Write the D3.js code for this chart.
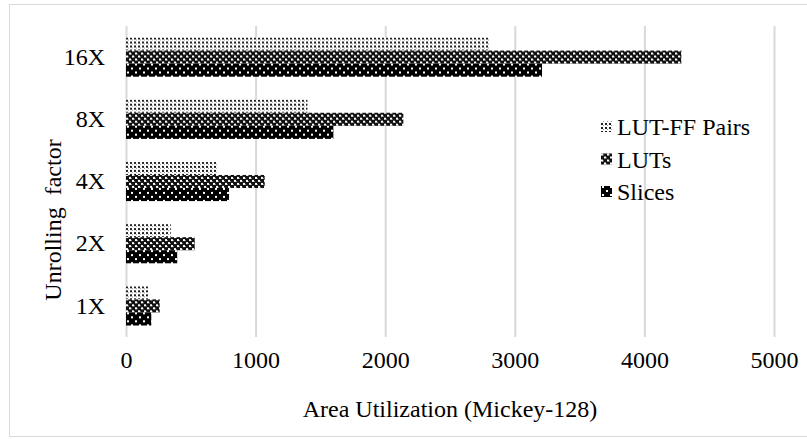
<!DOCTYPE html>
<html>
<head>
<meta charset="utf-8">
<script src="https://cdn.jsdelivr.net/npm/d3@7"></script>
<style>
  body { margin: 0; background: #fff; }
  svg text { font-family: "Liberation Serif", "Times New Roman", Times, serif !important; fill: #000; }
</style>
</head>
<body>
<div id="chart"></div>
<script>
      // data
      var categories = ["16X", "8X", "4X", "2X", "1X"];
      var seriesNames = ["LUT-FF Pairs", "LUTs", "Slices"];
      var lutffPairs = [2805, 1400, 700, 345, 170];
      var luts = [4285, 2140, 1070, 530, 260];
      var slices = [3210, 1600, 795, 395, 195];
      var xTicks = [0, 1000, 2000, 3000, 4000, 5000];

      var seriesValues = [lutffPairs, luts, slices];
      var patternIds = ["pat-pairs", "pat-luts", "pat-slices"];

      var W = 807, H = 439;
      var margin = {top: 26, right: 33, bottom: 102, left: 126};
      var width = W - margin.left - margin.right,
          height = H - margin.top - margin.bottom;
      var fontSize = "24px";

      var svg = d3.select("#chart").append("svg")
          .attr("width", W)
          .attr("height", H);

      // outer frame
      svg.append("rect")
          .attr("x", 9.5).attr("y", 4.5)
          .attr("width", 810).attr("height", 432)
          .attr("fill", "none")
          .attr("stroke", "#d9d9d9")
          .attr("stroke-width", 1);

      ////// patterns //////
      var defs = svg.append("defs");

      var p1 = defs.append("pattern").attr("id", "pat-pairs")
          .attr("patternUnits", "userSpaceOnUse").attr("width", 4).attr("height", 4);
      p1.append("rect").attr("width", 4).attr("height", 4).attr("fill", "#fff");
      p1.append("rect").attr("x", 0).attr("y", 0).attr("width", 2).attr("height", 2).attr("fill", "#222");
      p1.append("rect").attr("x", 2).attr("y", 2).attr("width", 1).attr("height", 1).attr("fill", "#999");

      var p2 = defs.append("pattern").attr("id", "pat-luts")
          .attr("patternUnits", "userSpaceOnUse").attr("width", 6).attr("height", 6);
      p2.append("rect").attr("width", 6).attr("height", 6).attr("fill", "#111");
      p2.append("rect").attr("x", 0).attr("y", 0).attr("width", 2).attr("height", 2).attr("fill", "#fff");
      p2.append("rect").attr("x", 3).attr("y", 3).attr("width", 2).attr("height", 2).attr("fill", "#fff");
      p2.append("rect").attr("x", 2).attr("y", 1).attr("width", 1).attr("height", 1).attr("fill", "#888");
      p2.append("rect").attr("x", 5).attr("y", 4).attr("width", 1).attr("height", 1).attr("fill", "#888");

      var p3 = defs.append("pattern").attr("id", "pat-slices")
          .attr("patternUnits", "userSpaceOnUse").attr("width", 8).attr("height", 8);
      p3.append("rect").attr("width", 8).attr("height", 8).attr("fill", "#000");
      p3.append("rect").attr("x", 1).attr("y", 2).attr("width", 2).attr("height", 2).attr("fill", "#fff");
      p3.append("rect").attr("x", 5).attr("y", 6).attr("width", 2).attr("height", 2).attr("fill", "#fff");

      var g = svg.append("g")
          .attr("transform", "translate(" + margin.left + "," + margin.top + ")");

      ////// scales //////
      var xScale = d3.scaleLinear()
          .domain([0, 5000])
          .range([0, width]);

      var yScale = d3.scaleBand()
          .domain(categories)
          .range([0, height])
          .paddingInner(0.37)
          .paddingOuter(0.185);

      var ySub = d3.scaleBand()
          .domain(seriesNames)
          .range([0, yScale.bandwidth()]);

      // grid
      var xGrid = d3.axisBottom(xScale).tickValues(xTicks).tickSize(-height).tickFormat("");
      var grid = g.append("g")
          .attr("transform", "translate(0," + height + ")")
          .call(xGrid);
      grid.select(".domain").remove();
      grid.selectAll("line").attr("stroke", "#d9d9d9").attr("stroke-width", 2);

      // x tick labels
      var xAxis = d3.axisBottom(xScale).tickValues(xTicks).tickSize(0).tickPadding(14).tickFormat(d3.format("d"));
      var xa = g.append("g")
          .attr("transform", "translate(0," + height + ")")
          .call(xAxis);
      xa.attr("font-family", null).attr("font-size", null);
      xa.select(".domain").remove();
      xa.selectAll("text").attr("font-size", fontSize);

      // y axis
      var yAxis = d3.axisLeft(yScale).tickSize(0).tickPadding(21);
      var ya = g.append("g").call(yAxis);
      ya.attr("font-family", null).attr("font-size", null);
      ya.select(".domain").remove();
      ya.selectAll("text").attr("font-size", fontSize);

      // bars
      var groups = g.selectAll(".cat")
          .data(categories)
          .enter().append("g")
          .attr("class", "cat")
          .attr("transform", function(d) { return "translate(0," + yScale(d) + ")"; });

      groups.selectAll("rect")
          .data(function(d, i) {
              return seriesNames.map(function(s, j) {
                  return {series: s, value: seriesValues[j][i], pat: patternIds[j]};
              });
          })
          .enter().append("rect")
          .attr("x", 0)
          .attr("y", function(d) { return ySub(d.series); })
          .attr("width", function(d) { return xScale(d.value); })
          .attr("height", ySub.bandwidth())
          .attr("fill", function(d) { return "url(#" + d.pat + ")"; });

      // axis titles
      svg.append("text")
          .attr("x", margin.left + xScale(2500))
          .attr("y", 417)
          .attr("text-anchor", "middle")
          .attr("font-size", fontSize)
          .text("Area Utilization (Mickey-128)");

      svg.append("text")
          .attr("transform", "translate(61,220) rotate(-90)")
          .attr("text-anchor", "middle")
          .attr("font-size", fontSize)
          .style("white-space", "pre")
          .text("Unrolling  factor");

      // legend
      var legend = svg.append("g")
          .attr("transform", "translate(601,127)");
      var li = legend.selectAll(".li")
          .data(seriesNames)
          .enter().append("g")
          .attr("class", "li")
          .attr("transform", function(d, i) { return "translate(0," + (i * 32.5) + ")"; });
      li.append("rect")
          .attr("x", 0).attr("y", -6)
          .attr("width", 11).attr("height", 11)
          .attr("fill", function(d, i) { return "url(#" + patternIds[i] + ")"; });
      li.append("text")
          .attr("x", 16).attr("y", 0)
          .attr("dy", "0.35em")
          .attr("font-size", fontSize)
          .text(function(d) { return d; });
</script>
</body>
</html>
